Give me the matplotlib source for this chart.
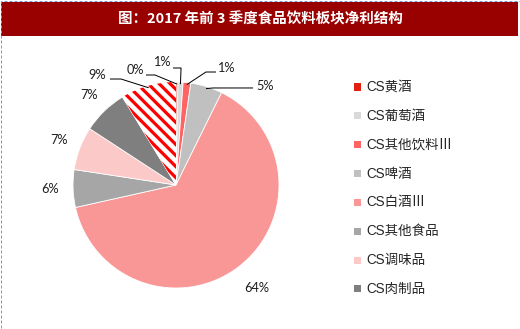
import numpy as np
import matplotlib
matplotlib.use("Agg")
import matplotlib.pyplot as plt
from matplotlib.patches import Rectangle

# ---------------- data ----------------
categories = ["CS黄酒", "CS葡萄酒", "CS其他饮料Ⅲ", "CS啤酒", "CS白酒Ⅲ",
              "CS其他食品", "CS调味品", "CS肉制品", "CS乳品"]
shares = [0.3, 0.8, 1.2, 5.0, 64.2, 5.9, 6.8, 7.1, 8.7]
legend_count = 8  # only the first eight appear in the legend
title = "图：2017 年前 3 季度食品饮料板块净利结构"

# ---------------- style ----------------
colors = ["#E3200F", "#D9D9D9", "#FF6464", "#C0C0C0", "#F99797",
          "#A6A6A6", "#FCC9C9", "#7F7F7F", "#FFFFFF"]
hatch_index = 8
DPI = 100
W, H = 520, 329
CX, CY, R = 176, 185, 103  # pie centre / radius in pixels


def pt(px):
    return px * 72.0 / DPI


cjk = ["Liberation Sans", "Noto Sans CJK SC", "DejaVu Sans"]

fig = plt.figure(figsize=(W / DPI, H / DPI), dpi=DPI)
fig.patch.set_facecolor("white")

ax = fig.add_axes([0, 0, 1, 1])
wedges, _ = ax.pie(shares, colors=colors, startangle=90, counterclock=False,
                   radius=1.0,
                   wedgeprops=dict(edgecolor="white", linewidth=pt(0.8)))
hw = wedges[hatch_index]
hw.set_facecolor("white")

# red diagonal stripes clipped to the hatched wedge
stripe_gap = 7.8 / R * np.sqrt(2)   # vertical offset between stripes
for c in np.arange(-2.5, 2.5, stripe_gap):
    ln, = ax.plot([-1.3, 1.3], [c + 1.3, c - 1.3], color="#FF0000",
                  lw=pt(3.2), solid_capstyle="butt", zorder=3)
    ln.set_clip_path(hw)

ax.set_xlim(-CX / R, (W - CX) / R)
ax.set_ylim(-(H - CY) / R, CY / R)
ax.set_aspect("auto")
ax.axis("off")

# ---------------- percentage labels ----------------
lab_font = dict(family=["Lato", "DejaVu Sans"], fontsize=pt(12.8), color="#1E1E1E")
leader = {  # index: (text x, text y, elbow x0, elbow x1, elbow y) in pie units
    8: (-0.767, 1.068, -0.641, -0.534, 1.029),
    0: (-0.398, 1.117, -0.291, -0.204, 1.068),
    1: (-0.136, 1.194, -0.029, 0.049, 1.136),
    2: (0.485, 1.136, 0.388, 0.291, 1.097),
    3: (0.864, 0.961, 0.748, 0.359, 0.942),
}
radial = {4: 1.27, 5: 1.22, 6: 1.22, 7: 1.22}

for i, w in enumerate(wedges):
    mid = np.deg2rad((w.theta1 + w.theta2) / 2.0)
    txt = f"{round(shares[i])}%"
    if i in leader:
        tx, ty, ex0, ex1, ey = leader[i]
        px, py = 0.98 * np.cos(mid), 0.98 * np.sin(mid)
        ax.plot([ex0, ex1, px], [ey, ey, py], color="black", lw=pt(1.0),
                solid_capstyle="butt", zorder=5)
        ax.text(tx, ty, txt, ha="center", va="center", **lab_font)
    else:
        r = radial[i]
        ax.text(r * np.cos(mid), r * np.sin(mid), txt, ha="center",
                va="center", **lab_font)

# ---------------- title bar ----------------
fig.patches.append(Rectangle((1 / W, 1 - 36 / H), 517 / W, 34 / H,
                             transform=fig.transFigure, facecolor="#990000",
                             edgecolor="none", zorder=0))
fig.text(260 / W, 1 - 19.5 / H, title, ha="center", va="center",
         color="white", fontsize=pt(14.5), fontweight="bold",
         family=["Noto Sans CJK SC", "DejaVu Sans"])

# outer dashed border
fig.patches.append(Rectangle((0.5 / W, 0.5 / H), 519 / W, 328 / H,
                             transform=fig.transFigure, facecolor="none",
                             edgecolor="#6F9BD8", lw=pt(1.0),
                             linestyle=(0, (3, 2)), zorder=10))

# ---------------- legend ----------------
y0, step = 87.0, 28.85
for k in range(legend_count):
    yc = y0 + k * step
    fig.patches.append(Rectangle((353.5 / W, 1 - (yc + 3.5) / H), 7 / W, 7 / H,
                                 transform=fig.transFigure,
                                 facecolor=colors[k], edgecolor="none"))
    fig.text(366 / W, 1 - yc / H, categories[k], ha="left", va="center",
             fontsize=pt(13.5), color="#262626", family=cjk)

fig.savefig("out.png", dpi=DPI, facecolor="white")
